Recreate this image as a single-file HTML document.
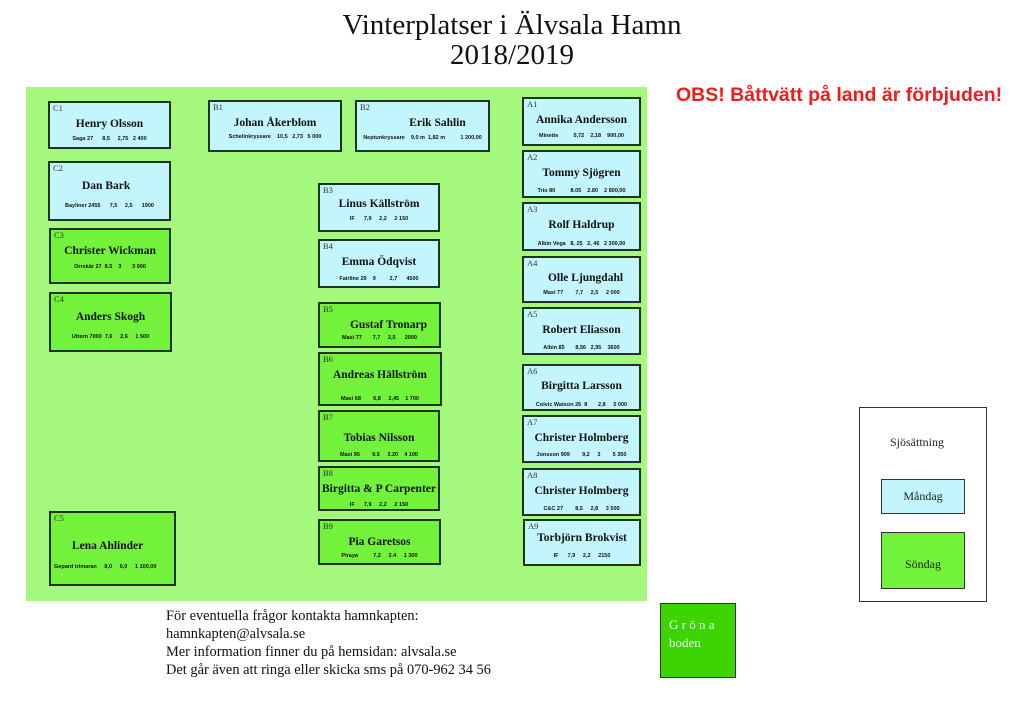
<!DOCTYPE html>
<html><head><meta charset="utf-8"><style>
body{margin:0;width:1024px;height:724px;background:#fff;position:relative;overflow:hidden;font-family:"Liberation Serif",serif}
.a{position:absolute}
.bx{position:absolute;box-sizing:border-box;border:2px solid #1f331f;background:#c3f6fc}
.g{background:#72f23a}
.bx .l{position:absolute;left:3px;top:0px;font-size:8.5px;color:#333;font-family:"Liberation Serif",serif}
.bx .n{position:absolute;left:0;right:0;text-align:center;font-weight:bold;font-size:11.5px;line-height:12px;color:#111}
.bx .d{position:absolute;left:0;right:0;text-align:center;font-weight:bold;font-size:5.5px;line-height:6px;font-family:"Liberation Sans",sans-serif;white-space:pre;color:#111}
</style></head><body>
<div class="a" style="left:0;width:1024px;top:10px;text-align:center;font-size:29px;line-height:30px;color:#111">Vinterplatser i Älvsala Hamn<br>2018/2019</div>
<div class="a" style="left:676px;top:84px;font-family:'Liberation Sans',sans-serif;font-weight:bold;font-size:19.5px;color:#f01c1c;white-space:nowrap">OBS! Båttvätt på land är förbjuden!</div>
<div class="a" style="left:26px;top:87px;width:621px;height:514px;background:#a4f87c"></div>

<div class="bx" style="left:48px;top:101px;width:123px;height:48px"><span class="l">C1</span><div class="n" style="top:15px">Henry Olsson</div><div class="d" style="top:33px">Saga 27      8,5     2,75   2 400</div></div>
<div class="bx" style="left:48px;top:161px;width:123px;height:60px"><span class="l">C2</span><div class="n" style="top:17px;text-align:left;left:32px">Dan Bark</div><div class="d" style="top:40px">Bayliner 2455      7,5     2,5      1900</div></div>
<div class="bx g" style="left:49px;top:228px;width:122px;height:56px"><span class="l">C3</span><div class="n" style="top:15px">Christer Wickman</div><div class="d" style="top:34px">Orrskär 27  8.5    3       3 000</div></div>
<div class="bx g" style="left:49px;top:292px;width:123px;height:60px"><span class="l">C4</span><div class="n" style="top:17px">Anders Skogh</div><div class="d" style="top:40px">Uttern 7000  7,6     2,6     1 500</div></div>
<div class="bx g" style="left:49px;top:511px;width:127px;height:75px"><span class="l">C5</span><div class="n" style="top:27px;text-align:left;left:21px">Lena Ahlinder</div><div class="d" style="top:51px;text-align:left;left:3px">Gepard trimaran     8,0     6,0     1 100,00</div></div>

<div class="bx" style="left:208px;top:100px;width:134px;height:52px"><span class="l">B1</span><div class="n" style="top:15px">Johan Åkerblom</div><div class="d" style="top:32px">Schelinkryssare    10,5   2,73   5 000</div></div>
<div class="bx" style="left:355px;top:100px;width:135px;height:52px"><span class="l">B2</span><div class="n" style="top:15px;left:30px">Erik Sahlin</div><div class="d" style="top:33px">Neptunkryssare    9,0 m  1,82 m          1 200,00</div></div>
<div class="bx" style="left:318px;top:183px;width:122px;height:49px"><span class="l">B3</span><div class="n" style="top:13px">Linus Källström</div><div class="d" style="top:31px">IF      7,9     2,2     2 150</div></div>
<div class="bx" style="left:318px;top:239px;width:122px;height:49px"><span class="l">B4</span><div class="n" style="top:15px">Emma Ödqvist</div><div class="d" style="top:35px">Fairline 29    9         2,7      4500</div></div>
<div class="bx g" style="left:318px;top:302px;width:123px;height:46px"><span class="l">B5</span><div class="n" style="top:15px;left:18px">Gustaf Tronarp</div><div class="d" style="top:31px">Maxi 77       7,7     2,5      2000</div></div>
<div class="bx g" style="left:318px;top:352px;width:124px;height:54px"><span class="l">B6</span><div class="n" style="top:15px">Andreas Hällström</div><div class="d" style="top:42px">Maxi 68        6,8     2,45    1 700</div></div>
<div class="bx g" style="left:318px;top:410px;width:122px;height:52px"><span class="l">B7</span><div class="n" style="top:20px">Tobias Nilsson</div><div class="d" style="top:40px">Maxi 95        9.5     3.20    4 100</div></div>
<div class="bx g" style="left:318px;top:466px;width:122px;height:45px"><span class="l">B8</span><div class="n" style="top:15px">Birgitta &amp; P Carpenter</div><div class="d" style="top:34px">IF      7,9     2,2     2 150</div></div>
<div class="bx g" style="left:318px;top:519px;width:123px;height:46px"><span class="l">B9</span><div class="n" style="top:15px">Pia Garetsos</div><div class="d" style="top:32px">Piraya          7,2     2.4     1 300</div></div>

<div class="bx" style="left:522px;top:97px;width:119px;height:49px"><span class="l">A1</span><div class="n" style="top:15px">Annika Andersson</div><div class="d" style="top:34px">Minette          5,72    2,18    900,00</div></div>
<div class="bx" style="left:522px;top:150px;width:119px;height:48px"><span class="l">A2</span><div class="n" style="top:15px">Tommy Sjögren</div><div class="d" style="top:36px">Trio 80          8.05    2.80    2 800,00</div></div>
<div class="bx" style="left:522px;top:202px;width:119px;height:49px"><span class="l">A3</span><div class="n" style="top:15px">Rolf Haldrup</div><div class="d" style="top:37px">Albin Vega   8, 25   2, 46   2 300,00</div></div>
<div class="bx" style="left:522px;top:256px;width:119px;height:47px"><span class="l">A4</span><div class="n" style="top:14px;left:8px">Olle Ljungdahl</div><div class="d" style="top:32px">Maxi 77        7,7     2,5     2 000</div></div>
<div class="bx" style="left:522px;top:307px;width:119px;height:48px"><span class="l">A5</span><div class="n" style="top:15px">Robert Eliasson</div><div class="d" style="top:36px">Albin 85       8,56   2,95    3600</div></div>
<div class="bx" style="left:522px;top:364px;width:119px;height:47px"><span class="l">A6</span><div class="n" style="top:14px">Birgitta Larsson</div><div class="d" style="top:36px">Colvic Watson 26  8       2,8     5 000</div></div>
<div class="bx" style="left:522px;top:415px;width:119px;height:48px"><span class="l">A7</span><div class="n" style="top:15px">Christer Holmberg</div><div class="d" style="top:35px">Jonsson 909        9,2     3        5 350</div></div>
<div class="bx" style="left:522px;top:468px;width:119px;height:48px"><span class="l">A8</span><div class="n" style="top:15px">Christer Holmberg</div><div class="d" style="top:36px">C&amp;C 27        8,5     2,8     3 500</div></div>
<div class="bx" style="left:523px;top:519px;width:118px;height:47px"><span class="l">A9</span><div class="n" style="top:11px">Torbjörn Brokvist</div><div class="d" style="top:32px">IF      7,9     2,2     2150</div></div>

<div class="a" style="left:166px;top:607px;font-size:14.4px;line-height:18px;color:#111;white-space:nowrap">För eventuella frågor kontakta hamnkapten:<br>hamnkapten@alvsala.se<br>Mer information finner du på hemsidan: alvsala.se<br>Det går även att ringa eller skicka sms på 070-962 34 56</div>

<div class="a" style="left:660px;top:603px;width:76px;height:75px;box-sizing:border-box;border:1.5px solid #333;background:#3ed402;color:#eef;font-size:13px;line-height:18px;padding:12px 0 0 8px">G r ö n a<br>boden</div>

<div class="a" style="left:859px;top:407px;width:128px;height:195px;box-sizing:border-box;border:1.5px solid #333;background:#fff"></div>
<div class="a" style="left:890px;top:435px;font-size:12px;color:#222">Sjösättning</div>
<div class="a" style="left:881px;top:479px;width:84px;height:35px;box-sizing:border-box;border:1.5px solid #333;background:#c3f6fc;font-size:12px;text-align:center;line-height:32px;color:#222">Måndag</div>
<div class="a" style="left:881px;top:532px;width:84px;height:57px;box-sizing:border-box;border:1.5px solid #333;background:#72f23a;font-size:12px;text-align:center;line-height:62px;color:#222">Söndag</div>
</body></html>
